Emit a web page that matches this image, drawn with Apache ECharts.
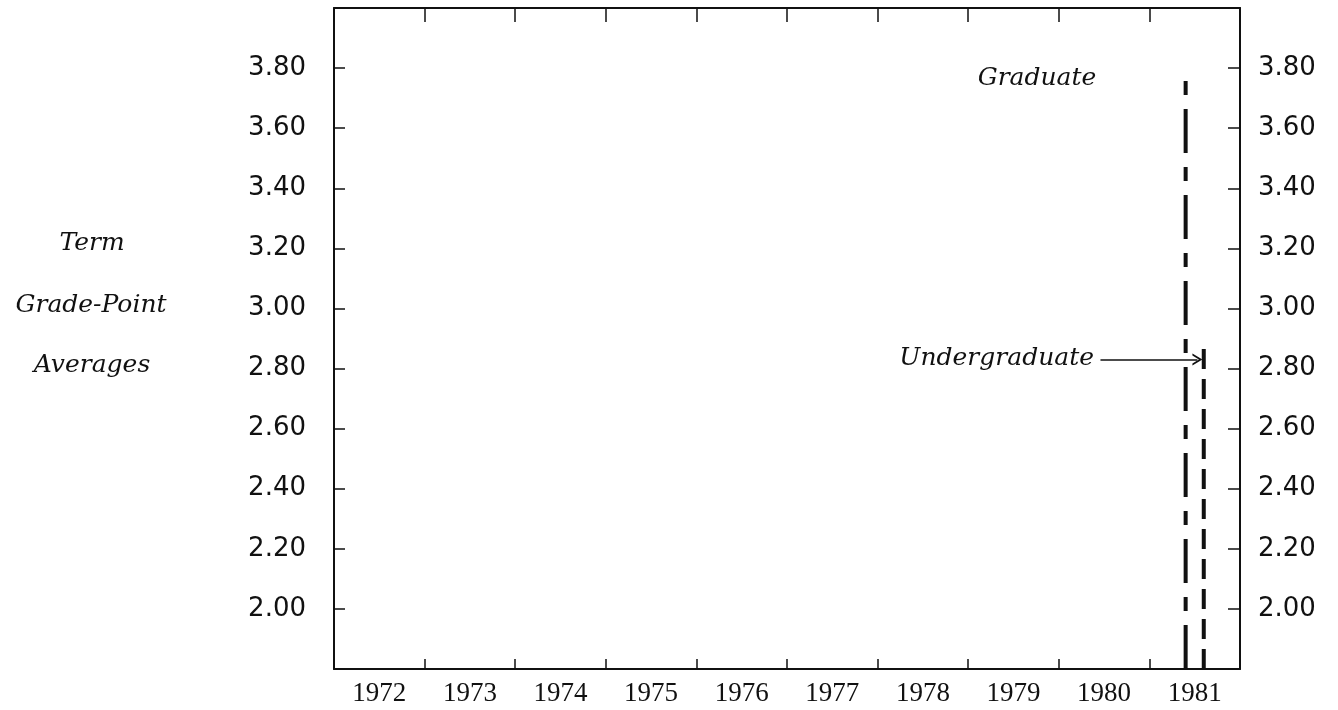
<!DOCTYPE html>
<html>
<head>
<meta charset="utf-8">
<script src="https://cdn.jsdelivr.net/npm/echarts@6/dist/echarts.min.js"></script>
<style>
  html, body { margin: 0; padding: 0; background: #fff; }
  #chart { width: 1338px; height: 710px; }
</style>
</head>
<body>
<div id="chart"></div>
<script>
// Academic years shown along the bottom axis
const years = ['1972', '1973', '1974', '1975', '1976', '1977', '1978', '1979', '1980', '1981'];

// Grade-point scale
const gpaMin = 1.8;
const gpaMax = 4.0;
const gpaStep = 0.2;

// Each group is drawn as a vertical trace at its year position: [year, gpa] pairs
const graduateTrace = [[1980.9, 1.8], [1980.9, 3.76]];
const undergraduateTrace = [[1981.1, 1.8], [1981.1, 2.89]];

// Pointer from the "Undergraduate" caption to its trace
const undergradPointer = [[1979.96, 2.83], [1981.03, 2.83]];

const ink = '#111';
const chart = echarts.init(document.getElementById('chart'));

const valueLabel = {
  color: ink,
  fontFamily: 'DejaVu Sans',
  fontSize: 26,
  formatter: function (v) {
    if (Math.abs(v - gpaMin) < 1e-6 || Math.abs(v - gpaMax) < 1e-6) return '';
    return v.toFixed(2);
  }
};

chart.setOption({
  animation: false,
  backgroundColor: '#fff',
  grid: { left: 334, right: 98, top: 8, bottom: 41, containLabel: false },
  xAxis: [
    {
      type: 'category',
      data: years,
      position: 'bottom',
      boundaryGap: true,
      axisLine: { show: true, lineStyle: { color: ink, width: 2 } },
      axisTick: { show: true, interval: 0, inside: true, length: 10, lineStyle: { color: ink, width: 1.5 } },
      axisLabel: { color: ink, fontFamily: 'Liberation Serif', fontSize: 27, margin: 11, interval: 0 },
      splitLine: { show: false }
    },
    {
      type: 'category',
      data: years,
      position: 'top',
      boundaryGap: true,
      axisLine: { show: true, lineStyle: { color: ink, width: 2 } },
      axisTick: { show: true, interval: 0, inside: true, length: 14, lineStyle: { color: ink, width: 1.5 } },
      axisLabel: { show: false },
      splitLine: { show: false }
    },
    {
      type: 'value',
      min: 1971.5,
      max: 1981.5,
      show: false
    }
  ],
  yAxis: [
    {
      type: 'value',
      position: 'left',
      min: gpaMin,
      max: gpaMax,
      interval: gpaStep,
      axisLine: { show: true, lineStyle: { color: ink, width: 2 } },
      axisTick: { show: true, inside: true, length: 11, lineStyle: { color: ink, width: 1.5 } },
      axisLabel: Object.assign({ margin: 28 }, valueLabel),
      splitLine: { show: false }
    },
    {
      type: 'value',
      position: 'right',
      min: gpaMin,
      max: gpaMax,
      interval: gpaStep,
      axisLine: { show: true, lineStyle: { color: ink, width: 2 } },
      axisTick: { show: true, inside: true, length: 12, lineStyle: { color: ink, width: 1.5 } },
      axisLabel: Object.assign({ margin: 18 }, valueLabel),
      splitLine: { show: false }
    }
  ],
  series: [
    {
      name: 'Graduate',
      type: 'line',
      xAxisIndex: 2,
      yAxisIndex: 0,
      data: graduateTrace,
      symbol: 'none',
      lineStyle: { color: ink, width: 4, type: [44, 14, 14, 14] }
    },
    {
      name: 'Undergraduate',
      type: 'line',
      xAxisIndex: 2,
      yAxisIndex: 0,
      data: undergraduateTrace,
      symbol: 'none',
      lineStyle: { color: ink, width: 4, type: [20, 10] },
      markLine: {
        silent: true,
        symbol: ['none', 'path://M0,10 L6,0 L12,10 L10,10 L6,3.5 L2,10 Z'],
        symbolSize: [12, 10],
        label: { show: false },
        lineStyle: { color: ink, width: 1.6, type: 'solid' },
        data: [[{ coord: undergradPointer[0] }, { coord: undergradPointer[1] }]]
      }
    }
  ],
  graphic: [
    {
      type: 'text', x: 92, y: 243,
      style: { text: 'Term', fill: ink, font: 'italic 25px "DejaVu Serif"', align: 'center', verticalAlign: 'middle' }
    },
    {
      type: 'text', x: 91, y: 305,
      style: { text: 'Grade-Point', fill: ink, font: 'italic 25px "DejaVu Serif"', align: 'center', verticalAlign: 'middle' }
    },
    {
      type: 'text', x: 92, y: 365,
      style: { text: 'Averages', fill: ink, font: 'italic 25px "DejaVu Serif"', align: 'center', verticalAlign: 'middle' }
    },
    {
      type: 'text', x: 1037, y: 78,
      style: { text: 'Graduate', fill: ink, font: 'italic 25px "DejaVu Serif"', align: 'center', verticalAlign: 'middle' }
    },
    {
      type: 'text', x: 1094, y: 358,
      style: { text: 'Undergraduate', fill: ink, font: 'italic 25px "DejaVu Serif"', align: 'right', verticalAlign: 'middle' }
    }
  ]
});
</script>
</body>
</html>
